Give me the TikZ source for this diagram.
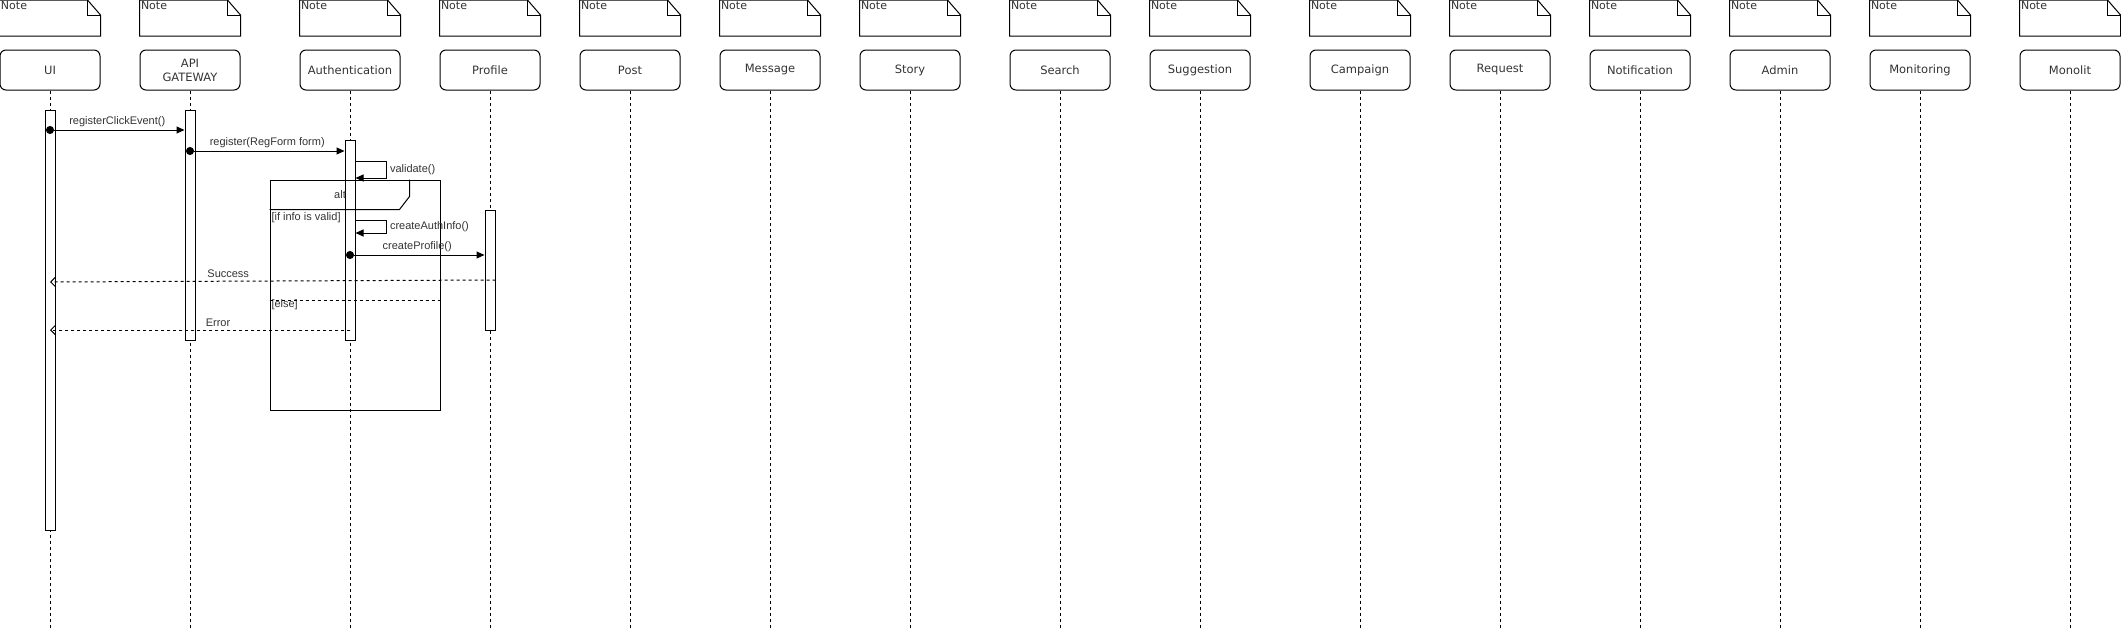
\documentclass[tikz,border=0pt]{standalone}
\usepackage{fontspec}
\setmainfont{Liberation Sans}
\newfontfamily\boxfont{DejaVu Sans}
\usetikzlibrary{arrows.meta}

\begin{document}
\begin{tikzpicture}[x=1pt, y=-1pt, line width=1pt,
  every node/.style = {font=\fontsize{11}{13}\selectfont, text=black!80, inner sep=1pt},
  actor/.style = {shape=rectangle, rounded corners=6pt, draw, align=center,
    minimum width=100pt, minimum height=40pt, font=\boxfont\fontsize{11.5}{14}\selectfont},
  notebox/.style = {minimum width=100pt, minimum height=35pt},
  lifeline/.style = {dash pattern=on 3pt off 3pt},
  activation/.style = {draw, fill=white, minimum width=10pt, inner sep=0pt},
  call/.style = {{Circle[length=8pt]}-{Triangle[length=8pt,width=7pt]}, shorten <=-4pt},
  selfcall/.style = {-{Triangle[length=8pt,width=7pt]}},
  reply/.style = {dash pattern=on 3pt off 3pt, -{Straight Barb[length=5pt,width=10pt]}},
  guard/.style = {anchor=west}]
  \useasboundingbox (0,0) rectangle (2121,632);

  % participants, notes and lifelines
  \foreach \name/\title/\cx in {ui/UI/50, api/{API\\GATEWAY}/190,
      auth/Authentication/350, profile/Profile/490, post/Post/630,
      message/Message/770, story/Story/910, search/Search/1060,
      suggestion/Suggestion/1200, campaign/Campaign/1360, request/Request/1500,
      notification/Notification/1640, admin/Admin/1780,
      monitoring/Monitoring/1920, monolit/Monolit/2070} {
    \node[actor] (\name) at (\cx,70) {\title};
    \node[notebox, label={[anchor=north west, font=\boxfont\fontsize{11}{13}\selectfont]north west:Note}]
      (note-\name) at (\cx,18) {};
    \draw (note-\name.north west) -- ([xshift=-13pt]note-\name.north east)
      -- ([yshift=-15pt]note-\name.north east) -- (note-\name.south east)
      -- (note-\name.south west) -- cycle;
    \draw ([xshift=-13pt]note-\name.north east) |- ([yshift=-15pt]note-\name.north east);
    \coordinate (end-\name) at (\cx,630);
    \draw[lifeline] (\name) -- (end-\name);
  }

  % activations
  \node[activation, minimum height=420pt] (ui-act) at (50,320) {};
  \node[activation, minimum height=230pt] (api-act) at (190,225) {};
  \node[activation, minimum height=200pt] (auth-act) at (350,240) {};
  \node[activation, minimum height=120pt] (profile-act) at (490,270) {};

  % alt fragment
  \node[draw, minimum width=170pt, minimum height=230pt, inner sep=0pt] (alt) at (355,295) {};
  \draw ([yshift=-30pt]alt.north west) -- ++(130,0) -- ++(10,-13) -- ++(0,-17);
  \node (alt-title) at (340,195) {alt};
  \node[guard] (guard-valid) at (270,218) {[if info is valid]};
  \node[guard] (guard-else) at (270,305) {[else]};
  \draw[lifeline] (alt.west |- 0,300) -- (alt.east |- 0,300);

  % messages
  \draw[call] (ui-act.center |- 0,130) -- (api-act.west |- 0,130)
    node[midway, above=2pt] {registerClickEvent()};
  \draw[call] (api-act.center |- 0,151) -- (auth-act.west |- 0,151)
    node[midway, above=2pt] {register(RegForm form)};
  \draw[selfcall] (auth-act.east |- 0,161) -- ++(31,0) |- (auth-act.east |- 0,178)
    node[pos=0.25, right=2pt] {validate()};
  \draw[selfcall] (auth-act.east |- 0,220) -- ++(31,0) |- (auth-act.east |- 0,233)
    node[pos=0.25, right=2pt] {createAuthInfo()};
  \draw[call] (auth-act.center |- 0,255) -- (profile-act.west |- 0,255)
    node[midway, above=2pt] {createProfile()};
  \draw[reply] (profile-act.east |- 0,280) -- (ui-act.center |- 0,282)
    node[pos=0.6, above=2pt] {Success};
  \draw[reply] (auth-act.center |- 0,330) -- (ui-act.center |- 0,330)
    node[pos=0.44, above=2pt] {Error};
\end{tikzpicture}
\end{document}
